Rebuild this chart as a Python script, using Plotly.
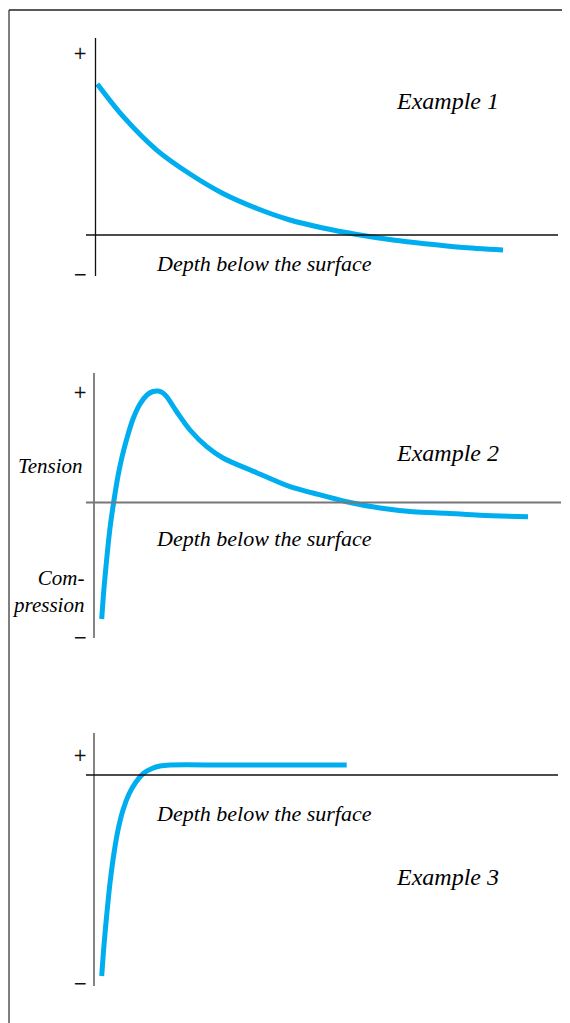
import plotly.graph_objects as go

OFF = 8  # page body margin in the browser
W, H = 570 - OFF, 1023 - OFF
BLUE = "#00AEEF"

# ---- data (depth units, stress units; zero stress = horizontal axis) ----
ex1_depth = [0.46, 5.66, 12.34, 19.0, 25.6, 32.4, 39.0, 45.6, 52.4, 59.6, 66.4, 73.0, 81.6]
ex1_stress = [30.2, 23.66, 16.98, 12.2, 8.3, 5.3, 3.0, 1.4, 0.1, -1.0, -1.8, -2.46, -3.0]

ex2_depth = [1.34, 1.8, 2.4, 3.0, 3.8, 4.6, 5.4, 6.4, 7.6, 9.0, 10.4, 11.6, 12.6, 13.6, 14.4,
             16.34, 19.0, 22.34, 25.6, 32.34, 39.0, 43.6, 50.34, 57.0, 63.6, 70.34, 77.0, 86.6]
ex2_stress = [-23.3, -17.1, -10.7, -5.1, 0.5, 5.3, 9.1, 12.9, 16.7, 19.7, 21.5, 22.2, 22.3, 21.9, 21.1,
              18.16, 14.5, 11.16, 8.9, 5.96, 3.16, 1.9, 0.16, -1.1, -1.84, -2.16, -2.54, -2.84]

ex3_depth = [1.34, 1.8, 2.4, 3.0, 3.8, 4.6, 5.6, 6.8, 8.2, 9.8, 11.4, 13.0, 15.0, 27.0, 50.34]
ex3_stress = [-40.2, -34.0, -27.4, -21.6, -15.6, -11.0, -7.0, -3.8, -1.4, 0.4, 1.3, 1.8, 2.0, 2.0, 2.0]

example_labels = ["Example 1", "Example 2", "Example 3"]
depth_label = "Depth below the surface"

# ---- panel geometry (reference pixel coordinates, shifted by OFF) ----
PX_PER_UNIT = 5.0
X_ZERO_PX = 95.0 - OFF
x_range = [-X_ZERO_PX / PX_PER_UNIT, (W - X_ZERO_PX) / PX_PER_UNIT]

# (top px, bottom px, zero px) in reference coordinates
panels = [(20, 300, 235.0), (360, 650, 502.5), (720, 1000, 775.0)]

def ydom(top, bot):
    return [1 - (bot - OFF) / H, 1 - (top - OFF) / H]

def yrng(top, bot, zero):
    return [(zero - bot) / PX_PER_UNIT, (zero - top) / PX_PER_UNIT]

def xu(px):
    return (px - OFF - X_ZERO_PX) / PX_PER_UNIT

def yu(py, zero):
    return (zero - py) / PX_PER_UNIT

fig = go.Figure()
series = [(ex1_depth, ex1_stress), (ex2_depth, ex2_stress), (ex3_depth, ex3_stress)]
for i, (xs, ys) in enumerate(series):
    suffix = "" if i == 0 else str(i + 1)
    fig.add_trace(go.Scatter(
        x=xs, y=ys, mode="lines",
        line=dict(color=BLUE, width=5, shape="spline", smoothing=0.9),
        xaxis="x" + suffix, yaxis="y" + suffix, hoverinfo="skip"))

layout = dict(width=W, height=H, margin=dict(l=0, r=0, t=0, b=0),
              paper_bgcolor="white", plot_bgcolor="white", showlegend=False)
for i, (top, bot, zero) in enumerate(panels):
    suffix = "" if i == 0 else str(i + 1)
    layout["xaxis" + suffix] = dict(domain=[0, 1], range=x_range, visible=False,
                                    anchor="y" + suffix, fixedrange=True)
    layout["yaxis" + suffix] = dict(domain=ydom(top, bot), range=yrng(top, bot, zero),
                                    visible=False, anchor="x" + suffix, fixedrange=True)
fig.update_layout(**layout)

shapes = []
# frame (left and top edges)
shapes.append(dict(type="line", xref="paper", yref="paper", x0=(9 - OFF) / W, x1=(9 - OFF) / W,
                   y0=0, y1=1 - (10 - OFF) / H, line=dict(color="#555", width=1.5)))
shapes.append(dict(type="line", xref="paper", yref="paper", x0=(9 - OFF) / W, x1=1,
                   y0=1 - (10 - OFF) / H, y1=1 - (10 - OFF) / H, line=dict(color="#222", width=1.5)))

axis_specs = [
    # vx px, vtop, vbot, hx0, hx1, vcolor, hcolor
    (95.5, 38, 276, 86, 558, "#111", "#111"),
    (94, 373, 638, 86, 561, "#777", "#777"),
    (94, 733, 986, 86, 558, "#777", "#111"),
]
annotations = []
pm_pos = [(53, 274), (392, 637), (755, 983)]
depth_py = [263, 538, 813]
example_py = [101, 453, 877]
SERIF = "Liberation Serif"
SANS = "DejaVu Sans"
for i, ((top, bot, zero), spec) in enumerate(zip(panels, axis_specs)):
    suffix = "" if i == 0 else str(i + 1)
    xr, yr = "x" + suffix, "y" + suffix
    vx, vt, vb, hx0, hx1, vc, hc = spec
    vw = 1.3 if vc == "#111" else 1.8
    hw = 1.3 if hc == "#111" else 2.2
    shapes.append(dict(type="line", xref=xr, yref=yr, x0=xu(vx), x1=xu(vx),
                       y0=yu(vt, zero), y1=yu(vb, zero), line=dict(color=vc, width=vw)))
    shapes.append(dict(type="line", xref=xr, yref=yr, x0=xu(hx0), x1=xu(hx1),
                       y0=0, y1=0, line=dict(color=hc, width=hw)))
    plus_py, minus_py = pm_pos[i]
    annotations.append(dict(xref=xr, yref=yr, x=xu(80), y=yu(plus_py, zero), text="+",
                            showarrow=False, font=dict(family=SANS, size=17, color="#111")))
    annotations.append(dict(xref=xr, yref=yr, x=xu(80), y=yu(minus_py, zero), text="\u2212",
                            showarrow=False, font=dict(family=SANS, size=17, color="#111")))
    annotations.append(dict(xref=xr, yref=yr, x=xu(264), y=yu(depth_py[i], zero),
                            text="<i>" + depth_label + "</i>", showarrow=False,
                            font=dict(family=SERIF, size=22, color="#000")))
    annotations.append(dict(xref=xr, yref=yr, x=xu(447), y=yu(example_py[i], zero),
                            text="<i>" + example_labels[i] + "</i>", showarrow=False,
                            font=dict(family=SERIF, size=24, color="#000")))

# Tension / Compression labels on panel 2
zero2 = panels[1][2]
annotations.append(dict(xref="x2", yref="y2", x=xu(85), y=yu(466, zero2), text="<i>Tension</i>",
                        showarrow=False, xanchor="right",
                        font=dict(family=SERIF, size=21, color="#000")))
annotations.append(dict(xref="x2", yref="y2", x=xu(86), y=yu(591, zero2),
                        text="<i>Com-</i><br><i>pression</i>", showarrow=False,
                        xanchor="right", align="right",
                        font=dict(family=SERIF, size=21, color="#000")))

fig.update_layout(shapes=shapes, annotations=annotations)
fig.write_html("out.html")
